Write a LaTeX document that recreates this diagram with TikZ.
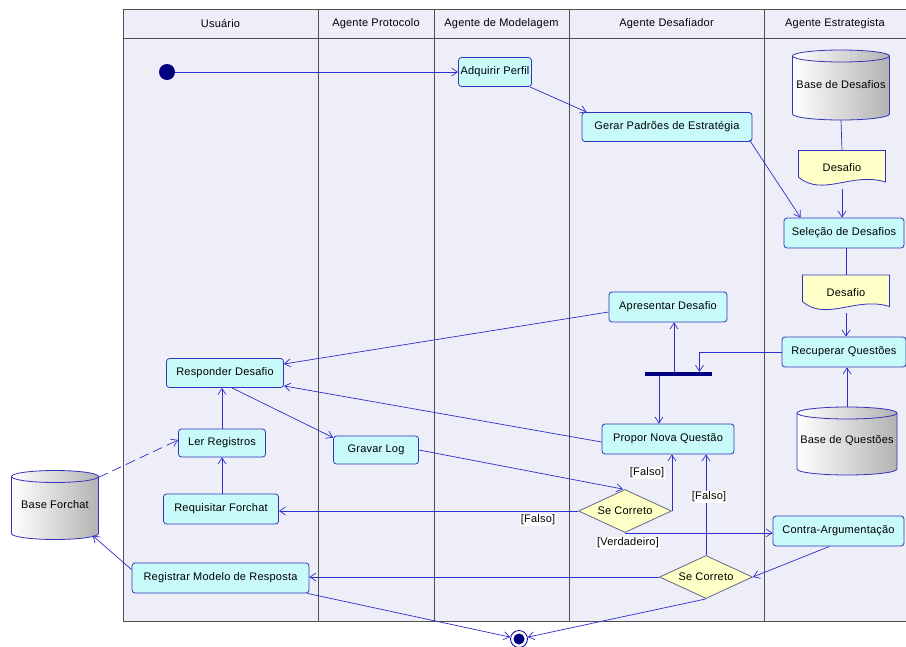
\documentclass[tikz,border=0pt]{standalone}
\usepackage{fontspec}
\setmainfont{Liberation Sans}[LetterSpace=2]
\usetikzlibrary{shapes.geometric,arrows.meta,calc}
\definecolor{lanebg}{HTML}{EEEEF8}
\definecolor{lanel}{HTML}{505050}
\definecolor{boxfill}{HTML}{C8FAFA}
\definecolor{boxdraw}{HTML}{3333BB}
\definecolor{edgec}{HTML}{2E2ECC}
\definecolor{docfill}{HTML}{FFFFC8}
\definecolor{navyc}{HTML}{000080}
\definecolor{diadraw}{HTML}{666688}
\newcommand\dbcyl[6]{%
  \begin{scope}[shift={(#2,#3)}]
    \shade[left color=white,right color=gray!60,draw=boxdraw,line width=0.8pt]
      ({-#4/2},{-#5/2+6}) -- ({-#4/2},{#5/2-6})
      arc[start angle=180,end angle=360,x radius={#4*0.5pt},y radius=6pt]
      -- ({#4/2},{-#5/2+6})
      arc[start angle=0,end angle=180,x radius={#4*0.5pt},y radius=6pt] -- cycle;
    \draw[boxdraw,line width=0.8pt] ({-#4/2},{-#5/2+6})
      arc[start angle=180,end angle=360,x radius={#4*0.5pt},y radius=6pt];
  \end{scope}
  \node[minimum width=#4pt, minimum height=#5pt, inner sep=0] (#1) at (#2,#3) {\raisebox{-3pt}{#6}};
}
\newcommand\docshp[4]{%
  \begin{scope}[shift={(#2,#3)}]
    \filldraw[fill=docfill,draw=boxdraw,line width=0.8pt]
      (-43.5,-19) -- (43.5,-19) -- (43.5,12.5) .. controls (10,2) and (-20,28) .. (-43.5,7.5) -- cycle;
  \end{scope}
  \node[minimum width=87pt, minimum height=38pt, inner sep=0] (#1) at (#2,#3) {\raisebox{3pt}{#4}};
}
\begin{document}
\begin{tikzpicture}[x=1pt,y=-1pt,font=\fontsize{11}{13}\selectfont,
  act/.style={draw=boxdraw,fill=boxfill,rounded corners=3pt,line width=0.8pt,inner sep=1pt,minimum height=29pt},
  dec/.style={diamond,draw=diadraw,fill=docfill,line width=0.8pt,inner sep=0pt,aspect=2.1,minimum width=93pt,minimum height=43pt},
  edg/.style={draw=edgec,line width=0.7pt,-{Straight Barb[length=6pt,width=8pt]}},
  lbl/.style={fill=white,inner sep=1pt},
  lane/.style={draw=lanel,line width=0.8pt}]
\useasboundingbox (0,0) rectangle (906,646);
\fill[white] (0,0) rectangle (906,646);
% swimlanes
\fill[lanebg] (123,9) rectangle (912,621);
\draw[lane] (912,9) -- (123,9) -- (123,621) -- (912,621);
\draw[lane] (123,38) -- (912,38);
\foreach \xx in {318,434,569,764} \draw[lane] (\xx,9) -- (\xx,621);
\node (h1) at (220.5,23.5) {Usuário};
\node (h2) at (376,23.5) {Agente Protocolo};
\node (h3) at (501.5,23.5) {Agente de Modelagem};
\node (h4) at (666.5,23.5) {Agente Desafiador};
\node (h5) at (835,23.5) {Agente Estrategista};
% data stores and documents
\dbcyl{basedes}{841}{85}{97}{70}{Base de Desafios}
\dbcyl{basequest}{847}{441}{100}{68}{Base de Questões}
\dbcyl{baseforchat}{55}{505}{87}{69}{Base Forchat}
\docshp{doc1}{842}{169.5}{Desafio}
\docshp{doc2}{846}{294}{Desafio}
% activities
\node[circle,fill=navyc,minimum size=16pt,inner sep=0] (init) at (167,72) {};
\node[act,minimum width=73pt] (adq) at (495,72) {Adquirir Perfil};
\node[act,minimum width=170pt] (gerar) at (667,127) {Gerar Padrões de Estratégia};
\node[act,minimum width=120pt,minimum height=30pt] (selec) at (844,233) {Seleção de Desafios};
\node[act,minimum width=118pt,minimum height=30pt] (apres) at (668,307) {Apresentar Desafio};
\node[act,minimum width=124pt,minimum height=30pt] (recup) at (844,352) {Recuperar Questões};
\node[fill=navyc,minimum width=67pt,minimum height=4pt,inner sep=0] (bar) at (678.5,374) {};
\node[act,minimum width=132pt,minimum height=30pt] (propor) at (668,439) {Propor Nova Questão};
\node[act,minimum width=117pt] (respond) at (225,373) {Responder Desafio};
\node[act,minimum width=87pt,minimum height=28pt] (ler) at (222,443) {Ler Registros};
\node[act,minimum width=85pt,minimum height=28pt] (gravar) at (376,450) {Gravar Log};
\node[act,minimum width=115pt,minimum height=30pt] (requis) at (221,509) {Requisitar Forchat};
\node[act,minimum width=177pt,minimum height=30pt] (registrar) at (220.5,578) {Registrar Modelo de Resposta};
\node[dec] (sc1) at (625,511) {Se Correto};
\node[act,minimum width=131pt,minimum height=30pt] (contra) at (838.5,531) {Contra-Argumentação};
\node[dec] (sc2) at (706,577) {Se Correto};
\node[circle,draw=navyc,fill=white,line width=0.8pt,minimum size=17pt,inner sep=0] (final) at (519,639) {};
\node[circle,fill=navyc,minimum size=11pt,inner sep=0] (finalin) at (final) {};
% connectors
\draw[edg] (init) -- (adq.west);
\draw[edg] ([xshift=-2pt]adq.south east) -- ([xshift=5pt]gerar.north west);
\draw[edg] ([xshift=-3pt,yshift=2pt]gerar.south east) -- ([xshift=17pt]selec.north west);
\draw[draw=edgec,line width=0.7pt] (basedes.south) -- (doc1.north);
\draw[edg] (doc1.south) -- (doc1.south |- selec.north);
\draw[draw=edgec,line width=0.7pt] (selec.south -| doc2.north) -- (doc2.north);
\draw[edg] (doc2.south) -- (doc2.south |- recup.north);
\draw[edg] (basequest.north) -- (basequest.north |- recup.south);
\draw[edg] (recup.west) -| ([xshift=21pt]bar.north);
\draw[edg] ([xshift=-4.5pt]bar.north) -- ([xshift=-4.5pt]bar.north |- apres.south);
\draw[edg] ([xshift=-19.5pt]bar.south) -- ([xshift=-19.5pt]bar.south |- propor.north);
\draw[edg] ([yshift=-5pt]apres.west) -- ([yshift=9pt]respond.east);
\draw[edg] ([yshift=-3pt]propor.west) -- ([yshift=2pt]respond.south east);
\draw[edg] ([xshift=7pt]respond.south) -- ([yshift=-2pt]gravar.north west);
\draw[edg] (gravar.east) -- ([xshift=-2pt]sc1.north);
\draw[edg] (sc1.east) -- (sc1.east |- propor.south);
\draw[edg] (sc1.west) -- (sc1.west -| requis.east);
\draw[edg] (sc1.south) -- (sc1.south -| contra.west);
\draw[edg] ([xshift=-9pt]contra.south) -- (sc2.east);
\draw[edg] (sc2.north) -- (sc2.north |- propor.south);
\draw[edg] (sc2.west) -- (sc2.west -| registrar.east);
\draw[edg] (sc2.south) -- (final);
\draw[edg] ([xshift=-2pt]registrar.south east) -- (final);
\draw[edg] ([yshift=-7pt]registrar.north west) -- ([xshift=-6pt,yshift=4pt]baseforchat.south east);
\draw[edg,dashed,dash pattern=on 10pt off 5pt] ([yshift=-7pt]baseforchat.north east) -- ([yshift=3pt]ler.west);
\draw[edg] (ler.south |- requis.north) -- (ler.south);
\draw[edg] (ler.north) -- (ler.north |- respond.south);
% guard labels
\node[lbl] (lf1) at (647,473) {[Falso]};
\node[lbl] (lf2) at (709,497) {[Falso]};
\node[lbl] (lf3) at (538,520) {[Falso]};
\node[lbl] (lv) at (628,543) {[Verdadeiro]};
\end{tikzpicture}
\end{document}
